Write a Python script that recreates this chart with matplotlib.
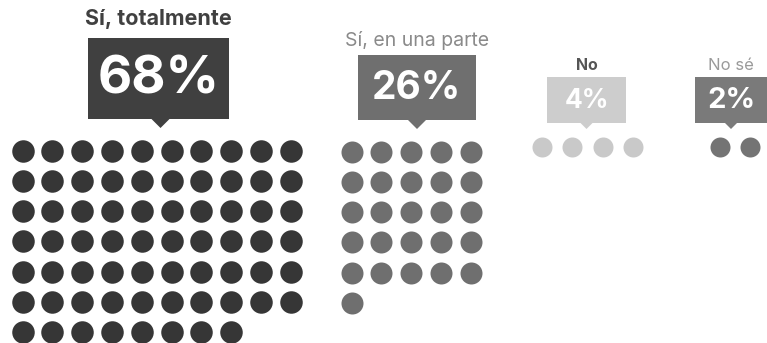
import matplotlib
matplotlib.use("Agg")
import matplotlib.pyplot as plt
from matplotlib.patches import Polygon

# data
labels = ["Sí, totalmente", "Sí, en una parte", "No", "No sé"]
percents = [68, 26, 4, 2]
columns = [10, 5, 4, 2]

# styling per group
colors = ["#363636", "#6f6f6f", "#c9c9c9", "#747474"]
box_colors = ["#404040", "#6f6f6f", "#cdcdcd", "#7a7a7a"]
label_colors = ["#404040", "#8a8a8a", "#555555", "#9a9a9a"]
label_weights = ["bold", "normal", "bold", "normal"]
label_sizes = [15.5, 14, 11.5, 12]
pct_sizes = [38, 28, 19, 21]
# pixel layout: dot x-start, dot y-start, box (x0, x1, y0, y1), label y
dot_x0 = [22.6, 351.7, 541.7, 720.0]
dot_y0 = [150.7, 151.7, 147.0, 147.0]
dot_step = [29.8, 29.75, 30.4, 30.0]
dot_d = [22.5, 22, 20, 20]
boxes = [(88, 229, 38, 119), (358, 476, 55, 120), (547, 626, 77, 123), (695, 770, 77, 123)]
label_y = [19, 40, 65, 65]

fig = plt.figure(figsize=(7.67, 3.43), dpi=100)
ax = fig.add_axes([0, 0, 1, 1])
ax.set_xlim(0, 767)
ax.set_ylim(343, 0)
ax.axis("off")

for i, n in enumerate(percents):
    cols = columns[i]
    xs = [dot_x0[i] + (k % cols) * dot_step[i] for k in range(n)]
    ys = [dot_y0[i] + (k // cols) * 30.2 for k in range(n)]
    s = (dot_d[i] * 0.72) ** 2
    ax.scatter(xs, ys, s=s, color=colors[i], linewidths=0)

    x0, x1, y0, y1 = boxes[i]
    ax.add_patch(plt.Rectangle((x0, y0), x1 - x0, y1 - y0, color=box_colors[i], lw=0))
    px = (x0 + x1) / 2 if i > 0 else (x0 + x1) / 2 + 2
    if i == 3:
        px = 731
    th = 9 if i < 2 else 6
    ax.add_patch(Polygon([(px - th, y1), (px + th, y1), (px, y1 + th)], closed=True,
                         color=box_colors[i], lw=0))
    cx = (x0 + x1) / 2 if i < 3 else 731
    ax.text(cx, (y0 + y1) / 2 + 1, f"{n}%", ha="center", va="center", color="white",
            fontsize=pct_sizes[i], fontweight="bold", family="Inter")
    ax.text(cx, label_y[i], labels[i], ha="center", va="center", color=label_colors[i],
            fontsize=label_sizes[i], fontweight=label_weights[i], family="Inter")

fig.savefig("out.png", dpi=100)
